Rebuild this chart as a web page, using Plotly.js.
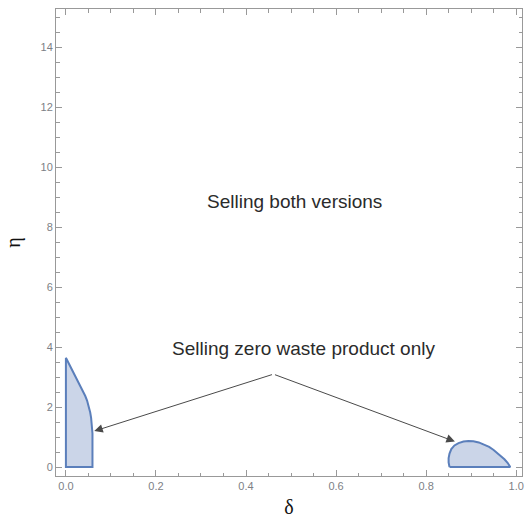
<!DOCTYPE html>
<html>
<head>
<meta charset="utf-8">
<script src="https://cdn.plot.ly/plotly-3.0.1.min.js"></script>
<style>html,body{margin:0;padding:0;background:#fff;}#chart{width:530px;height:523px;}</style>
</head>
<body>
<div id="chart"></div>
<script>
// Region boundaries (delta, eta)
const leftRegionDelta = [0, 0.007, 0.014, 0.021, 0.027, 0.033, 0.038, 0.043, 0.047, 0.051, 0.054, 0.056, 0.058, 0.059, 0.059, 0, 0];
const leftRegionEta   = [3.65, 3.45, 3.25, 3.05, 2.86, 2.68, 2.52, 2.37, 2.22, 2.02, 1.82, 1.64, 1.40, 1.12, 0, 0, 3.65];
const rightRegionDelta = [0.852, 0.850, 0.850, 0.852, 0.856, 0.863, 0.872, 0.883, 0.894, 0.905, 0.917, 0.928, 0.940, 0.950, 0.958, 0.966, 0.974, 0.981, 0.987, 0.852];
const rightRegionEta   = [0, 0.15, 0.30, 0.45, 0.60, 0.72, 0.80, 0.85, 0.87, 0.86, 0.82, 0.76, 0.67, 0.57, 0.47, 0.37, 0.26, 0.14, 0, 0];

// Annotation texts and arrows
const labelTexts = ["Selling both versions", "Selling zero waste product only"];
const labelDelta = [0.508, 0.528];
const labelEta = [8.88, 3.94];
const arrowTail = [0.461, 3.10];
const arrowHeadsDelta = [0.063, 0.864];
const arrowHeadsEta = [1.2, 0.85];

const xTicks = [0, 0.2, 0.4, 0.6, 0.8, 1.0];
const xTickText = ["0.0", "0.2", "0.4", "0.6", "0.8", "1.0"];
const yTicks = [0, 2, 4, 6, 8, 10, 12, 14];

const fillColor = "rgba(203,213,232,1)";
const lineColor = "#5b7fbb";

const traces = [
  {x: leftRegionDelta, y: leftRegionEta, type: "scatter", mode: "lines", fill: "toself",
   fillcolor: fillColor, line: {color: lineColor, width: 2}, hoverinfo: "skip"},
  {x: rightRegionDelta, y: rightRegionEta, type: "scatter", mode: "lines", fill: "toself",
   fillcolor: fillColor, line: {color: lineColor, width: 2}, hoverinfo: "skip"}
];

const annotations = [];
for (let i = 0; i < labelTexts.length; i++) {
  annotations.push({x: labelDelta[i], y: labelEta[i], xref: "x", yref: "y", text: labelTexts[i],
    showarrow: false, font: {family: "Liberation Sans, Arial, sans-serif", size: 19, color: "#2b2b2b"}});
}
for (let i = 0; i < arrowHeadsDelta.length; i++) {
  annotations.push({x: arrowHeadsDelta[i], y: arrowHeadsEta[i], xref: "x", yref: "y",
    ax: arrowTail[0], ay: arrowTail[1], axref: "x", ayref: "y", text: "", showarrow: true,
    arrowhead: 2, arrowsize: 1.7, arrowwidth: 1, arrowcolor: "#4a4a4a", standoff: 0, startstandoff: 0});
}

const axisCommon = {
  showgrid: false, zeroline: false, showline: true, linecolor: "#999999", linewidth: 1,
  mirror: "allticks", ticks: "inside", ticklen: 6, tickcolor: "#999999", tickwidth: 1,
  tickfont: {family: "Liberation Sans, Arial, sans-serif", size: 11, color: "#7d7f86"}
};

const layout = {
  width: 530, height: 523,
  margin: {l: 56, r: 8, t: 9, b: 47},
  paper_bgcolor: "#ffffff", plot_bgcolor: "#ffffff",
  showlegend: false,
  xaxis: Object.assign({}, axisCommon, {
    range: [-0.022, 1.013], tickmode: "array", tickvals: xTicks, ticktext: xTickText,
    minor: {dtick: 0.05, tick0: 0, ticks: "inside", ticklen: 3.5, tickcolor: "#999999"},
    title: {text: "δ", standoff: 8, font: {family: "Liberation Serif, Times New Roman, serif", size: 20, color: "#111111"}}
  }),
  yaxis: Object.assign({}, axisCommon, {
    range: [-0.3, 15.29], tickmode: "array", tickvals: yTicks,
    minor: {dtick: 0.5, tick0: 0, ticks: "inside", ticklen: 3.5, tickcolor: "#999999"},
    title: {text: "η", standoff: 14, font: {family: "Liberation Serif, Times New Roman, serif", size: 20, color: "#111111"}}
  }),
  annotations: annotations
};

Plotly.newPlot("chart", traces, layout, {staticPlot: true, displayModeBar: false});
</script>
</body>
</html>
